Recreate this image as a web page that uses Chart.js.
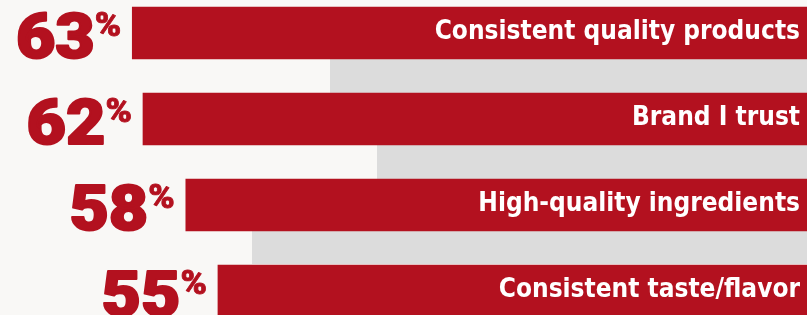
<!DOCTYPE html>
<html>
<head>
<meta charset="utf-8">
<script src="https://cdn.jsdelivr.net/npm/chart.js@4"></script>
<style>
  html, body { margin: 0; padding: 0; }
  body { width: 807px; height: 315px; overflow: hidden; position: relative; background: #f9f8f6; }
  .band { position: absolute; right: 0; background: #dcdcdc; }
  #wrap { position: absolute; left: 0; top: -10px; width: 807px; height: 344px; }
</style>
</head>
<body>
<div class="band" style="left:330px; top:59px; height:35px;"></div>
<div class="band" style="left:377px; top:145px; height:34px;"></div>
<div class="band" style="left:252px; top:230px; height:34px;"></div>
<div id="wrap"><canvas id="chart"></canvas></div>
<script>
// ─── Data ─────────────────────────────────────────────────────────────
const categories = [
  'Consistent quality products',
  'Brand I trust',
  'High-quality ingredients',
  'Consistent taste/flavor',
];
const shares = [63, 62, 58, 55];

const RED = '#b3111f';

// draw heavy, slightly widened text (the original uses a black-weight face)
function heavyText(ctx, text, x, y, sx, stroke) {
  ctx.save();
  ctx.translate(x, y);
  ctx.scale(sx, 1);
  ctx.lineWidth = stroke;
  ctx.lineJoin = 'round';
  ctx.strokeStyle = ctx.fillStyle;
  ctx.fillText(text, 0, 0);
  ctx.strokeText(text, 0, 0);
  ctx.restore();
}

// percent on the left of each bar, category name inside it
const barLabels = {
  id: 'barLabels',
  afterDatasetsDraw(chart) {
    const ctx = chart.ctx;
    const meta = chart.getDatasetMeta(0);
    ctx.save();
    meta.data.forEach((bar, i) => {
      const left = Math.min(bar.x, bar.base);
      const right = Math.max(bar.x, bar.base);
      const mid = bar.y;
      const bottom = bar.y + bar.height / 2;

      // superscript %
      ctx.fillStyle = RED;
      ctx.textAlign = 'right';
      ctx.textBaseline = 'alphabetic';
      ctx.font = '900 34px Roboto';
      const pctRight = left - 11;
      heavyText(ctx, '%', pctRight, mid + 3, 1.05, 0.8);
      const pctW = ctx.measureText('%').width * 1.05;

      // big number
      ctx.font = '900 63px Roboto';
      heavyText(ctx, String(shares[i]), pctRight - pctW, bottom - 1, 1.08, 2);

      // category name
      ctx.fillStyle = '#ffffff';
      ctx.font = 'bold 26px "DejaVu Sans Condensed"';
      ctx.fillText(categories[i], right - 7, mid + 6);
    });
    ctx.restore();
  },
};

new Chart(document.getElementById('chart'), {
  type: 'bar',
  data: {
    labels: categories,
    datasets: [{
      data: shares,
      backgroundColor: RED,
      borderWidth: 0,
      barThickness: 52,
    }],
  },
  options: {
    indexAxis: 'y',
    responsive: true,
    maintainAspectRatio: false,
    animation: false,
    layout: { padding: 0 },
    plugins: { legend: { display: false }, tooltip: { enabled: false } },
    scales: {
      x: { reverse: true, min: 0, max: 75.35, display: false },
      y: { display: false },
    },
  },
  plugins: [barLabels],
});
</script>
</body>
</html>
